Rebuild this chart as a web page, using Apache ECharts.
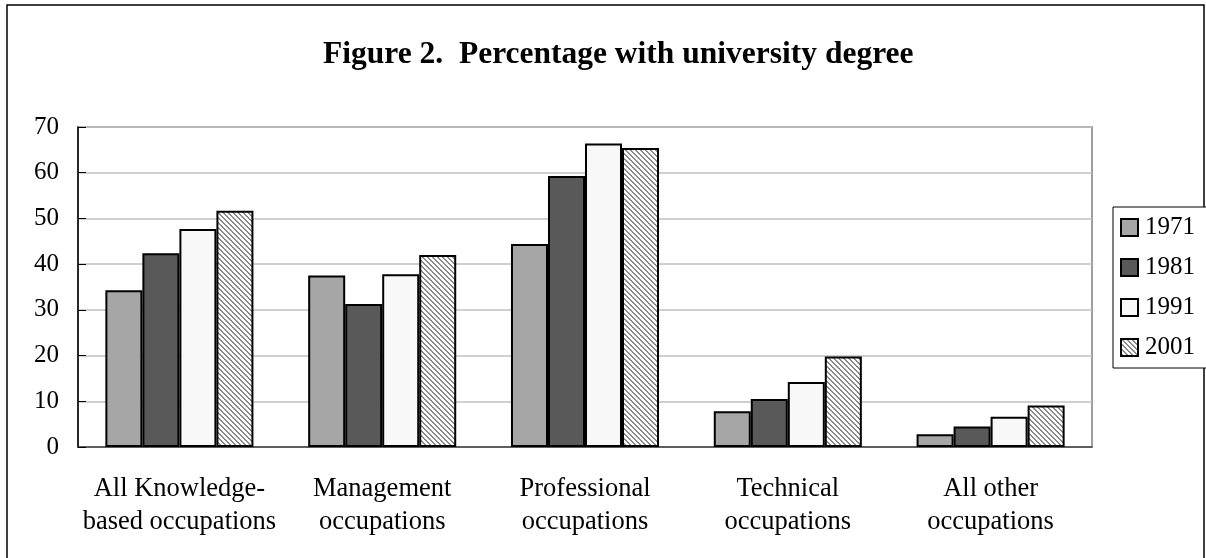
<!DOCTYPE html>
<html>
<head>
<meta charset="utf-8">
<script src="https://cdn.jsdelivr.net/npm/echarts@6/dist/echarts.min.js"></script>
<style>
html,body{margin:0;padding:0;background:#fff;}
#chart{width:1206px;height:558px;}
</style>
</head>
<body>
<div id="chart"></div>
<script>
const categories = [
  'All Knowledge-\nbased occupations',
  'Management\noccupations',
  'Professional\noccupations',
  'Technical\noccupations',
  'All other\noccupations'
];
const years = ['1971', '1981', '1991', '2001'];
const values1971 = [34.3, 37.5, 44.4, 7.8, 2.8];
const values1981 = [42.4, 31.3, 59.3, 10.5, 4.5];
const values1991 = [47.7, 37.8, 66.4, 14.2, 6.6];
const values2001 = [51.7, 42.0, 65.4, 19.8, 9.1];
const yTicks = [0, 10, 20, 30, 40, 50, 60, 70];

// hatch pattern for 2001
const pc = document.createElement('canvas');
pc.width = 5; pc.height = 5;
const pctx = pc.getContext('2d');
pctx.fillStyle = '#ffffff';
pctx.fillRect(0, 0, 5, 5);
pctx.fillStyle = '#8a8a8a';
for (let y = 0; y < 5; y++) {
  for (let x = 0; x < 5; x++) {
    const d = ((x - y) % 5 + 5) % 5;
    if (d === 0 || d === 1) pctx.fillRect(x, y, 1, 1);
  }
}

const fills = ['#a6a6a6', '#595959', '#f8f8f8', { image: pc, repeat: 'repeat' }];
const seriesData = [values1971, values1981, values1991, values2001];
const FONT = 'Liberation Serif';

const chart = echarts.init(document.getElementById('chart'));
chart.setOption({
  backgroundColor: '#ffffff',
  animation: false,
  title: {
    text: 'Figure 2.  Percentage with university degree',
    left: 318,
    top: 34,
    textStyle: { fontFamily: FONT, fontWeight: 'bold', fontSize: 31.5, color: '#000' }
  },
  graphic: [{
    type: 'rect',
    shape: { x: 7, y: 5, width: 1197, height: 600 },
    style: { fill: 'none', stroke: '#000', lineWidth: 1.5 },
    silent: true
  }],
  legend: {
    orient: 'vertical',
    left: 1113,
    top: 207,
    data: years.map(y => ({ name: y, icon: 'rect' })),
    itemWidth: 17,
    itemHeight: 17,
    itemGap: 15,
    padding: [8, 20, 8, 7],
    borderColor: '#000',
    borderWidth: 1,
    backgroundColor: '#fff',
    textStyle: { fontFamily: FONT, fontSize: 25, color: '#000', padding: [0, 0, 0, 2] },
    itemStyle: { borderColor: '#000', borderWidth: 2 }
  },
  grid: {
    left: 78, right: 114, top: 127, bottom: 111,
    show: true, borderColor: '#808080', borderWidth: 1.5, backgroundColor: 'transparent'
  },
  xAxis: {
    type: 'category',
    data: categories,
    axisLine: { lineStyle: { color: '#404040', width: 1.5 } },
    axisTick: { inside: true, length: 7, lineStyle: { color: '#404040', width: 1 } },
    axisLabel: { fontFamily: FONT, fontSize: 26.5, color: '#000', lineHeight: 33, margin: 26, interval: 0 }
  },
  yAxis: {
    type: 'value',
    min: yTicks[0],
    max: yTicks[yTicks.length - 1],
    interval: 10,
    axisLine: { show: true, lineStyle: { color: '#000', width: 1.5 } },
    axisTick: { show: true, inside: true, length: 8, lineStyle: { color: '#000', width: 1 } },
    axisLabel: { fontFamily: FONT, fontSize: 25, color: '#000', margin: 19 },
    splitLine: { lineStyle: { color: '#c0c0c0', width: 1.5 } }
  },
  series: years.map((y, i) => ({
    name: y,
    type: 'bar',
    data: seriesData[i],
    barGap: '0%',
    barCategoryGap: '27%',
    itemStyle: { color: fills[i], borderColor: '#000', borderWidth: 2 }
  }))
});
</script>
</body>
</html>
